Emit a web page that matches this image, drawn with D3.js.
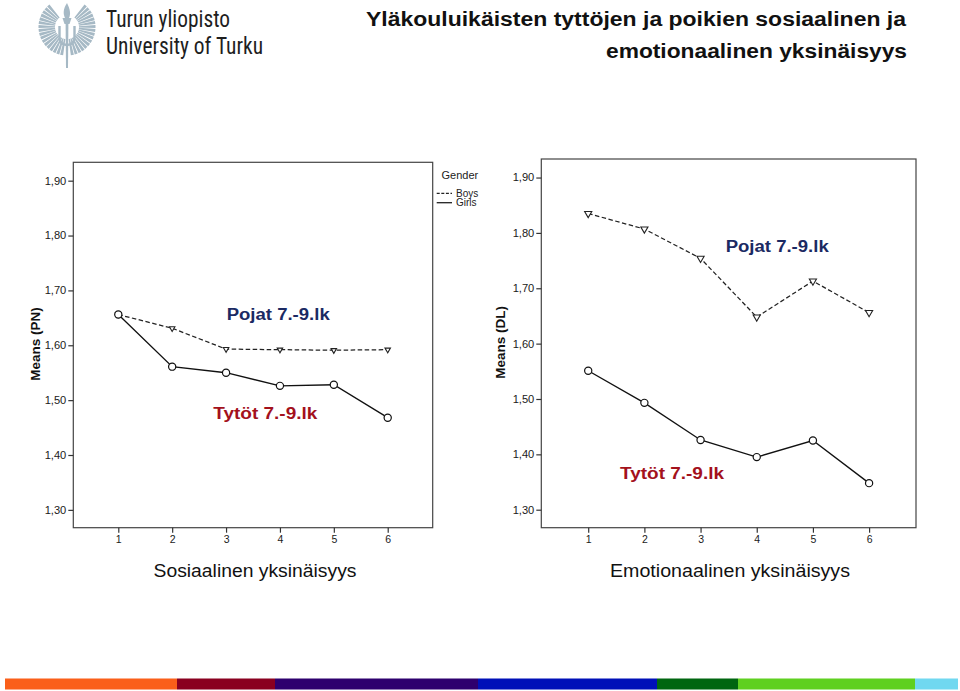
<!DOCTYPE html>
<html><head><meta charset="utf-8">
<script src="https://cdn.jsdelivr.net/npm/d3@7"></script>
<style>body{margin:0;background:#fff}svg{display:block;font-family:"Liberation Sans",Arial,Helvetica,sans-serif}</style>
</head><body><svg id="c" width="960" height="691"></svg>
<script>
// ---- data ----
const grades = [1, 2, 3, 4, 5, 6];
const boysPN = [1.656, 1.631, 1.593, 1.592, 1.591, 1.592];
const girlsPN = [1.656, 1.561, 1.550, 1.526, 1.528, 1.468];
const boysDL = [1.835, 1.807, 1.754, 1.648, 1.713, 1.656];
const girlsDL = [1.551, 1.493, 1.426, 1.395, 1.425, 1.348];
const yTicks = [1.30, 1.40, 1.50, 1.60, 1.70, 1.80, 1.90];
const seriesNames = ["Boys", "Girls"];
const legendTitle = "Gender";
const titleLines = ["Yläkouluikäisten tyttöjen ja poikien sosiaalinen ja", "emotionaalinen yksinäisyys"];
const panelTitles = ["Sosiaalinen yksinäisyys", "Emotionaalinen yksinäisyys"];
const yTitles = ["Means (PN)", "Means (DL)"];
const labelBoys = "Pojat 7.-9.lk";
const labelGirls = "Tytöt 7.-9.lk";
const logoLines = ["Turun yliopisto", "University of Turku"];
const brandColors = ["#fa5f1a", "#8a0020", "#2e006e", "#0010b8", "#006610", "#5fd020", "#70d8f0"];

// ---- layout ----
const svg = d3.select("#c");
const locale = d3.formatLocale({decimal: ",", thousands: ".", grouping: [3], currency: ["", "€"]});
const fmt = locale.format(".2f");
const fit = (sel, len) => sel.attr("textLength", len).attr("lengthAdjust", "spacingAndGlyphs");
const stretch = (sel, k) => sel.each(function () {
  const L = this.getComputedTextLength();
  d3.select(this).attr("textLength", L * k).attr("lengthAdjust", "spacingAndGlyphs");
});

const panels = [
  {x0: 73.3, x1: 432.7, y0: 162.3, y1: 527.7, boys: boysPN, girls: girlsPN,
   xt: panelTitles[0], yt: yTitles[0], xtLen: 203, xtX: 255, ytX: 35,
   bl: [226.7, 320], gl: [213.3, 419.3], tri: 13},
  {x0: 541.3, x1: 916, y0: 159, y1: 527.7, boys: boysDL, girls: girlsDL,
   xt: panelTitles[1], yt: yTitles[1], xtLen: 240, xtX: 730, ytX: 500.5,
   bl: [725.7, 251.7], gl: [620, 479.3], tri: 22}
];

panels.forEach(p => {
  const x = d3.scaleLinear().domain([0.165, 6.835]).range([p.x0, p.x1]);
  const y = d3.scaleLinear().domain([1.2675, 1.9335]).range([p.y1, p.y0]);
  const g = svg.append("g");

  g.append("rect").attr("x", p.x0).attr("y", p.y0)
    .attr("width", p.x1 - p.x0).attr("height", p.y1 - p.y0)
    .attr("fill", "none").attr("stroke", "#444").attr("stroke-width", 1.2);

  const ya = g.append("g").attr("transform", `translate(${p.x0},0)`)
    .call(d3.axisLeft(y).tickValues(yTicks).tickFormat(fmt).tickSize(5).tickPadding(2));
  const xa = g.append("g").attr("transform", `translate(0,${p.y1})`)
    .call(d3.axisBottom(x).tickValues(grades).tickFormat(d3.format("d")).tickSize(5).tickPadding(3));
  [ya, xa].forEach(a => {
    a.select(".domain").remove();
    a.selectAll(".tick line").attr("stroke", "#333").attr("stroke-width", 1.2);
    a.selectAll(".tick text").attr("fill", "#1a1a1a").style("font-size", "10.5px");
  });
  stretch(ya.selectAll(".tick text"), 1.06);

  const line = d3.line().x((d, i) => x(grades[i])).y(d => y(d));
  g.append("path").datum(p.boys).attr("d", line).attr("fill", "none")
    .attr("stroke", "#222").attr("stroke-width", 1.25).attr("stroke-dasharray", "4.5,2.5");
  g.append("path").datum(p.girls).attr("d", line).attr("fill", "none")
    .attr("stroke", "#111").attr("stroke-width", 1.35);

  const tri = d3.symbol().type(d3.symbolTriangle).size(p.tri);
  g.selectAll(".tri").data(p.boys).join("path")
    .attr("d", tri)
    .attr("transform", (d, i) => `translate(${x(grades[i])},${y(d)}) rotate(180)`)
    .attr("fill", "#fff").attr("stroke", "#222").attr("stroke-width", 1.1);
  g.selectAll(".circ").data(p.girls).join("circle")
    .attr("cx", (d, i) => x(grades[i])).attr("cy", d => y(d)).attr("r", 3.6)
    .attr("fill", "#fff").attr("stroke", "#111").attr("stroke-width", 1.2);

  // axis titles
  g.append("text").attr("transform", `translate(${p.ytX},${(p.y0 + p.y1) / 2 - 1}) rotate(-90)`)
    .attr("text-anchor", "middle").attr("dominant-baseline", "central")
    .style("font-size", "13.5px").style("font-weight", "bold").attr("fill", "#111").text(p.yt);
  g.append("text").attr("x", p.xtX - p.xtLen / 2).attr("y", 577)
    .style("font-size", "17.5px").attr("fill", "#111").text(p.xt).call(fit, p.xtLen);

  // annotations
  g.append("text").attr("x", p.bl[0]).attr("y", p.bl[1])
    .style("font-size", "16px").style("font-weight", "bold").attr("fill", "#1b2a63")
    .text(labelBoys).call(fit, 103);
  g.append("text").attr("x", p.gl[0]).attr("y", p.gl[1])
    .style("font-size", "16px").style("font-weight", "bold").attr("fill", "#a3111c")
    .text(labelGirls).call(fit, 104);
});

// legend
const lg = svg.append("g");
lg.append("text").attr("x", 441.5).attr("y", 179).style("font-size", "11px").attr("fill", "#222").text(legendTitle);
seriesNames.forEach((s, i) => {
  const yy = 193.3 + i * 9.4;
  lg.append("line").attr("x1", 436.7).attr("x2", 452).attr("y1", yy).attr("y2", yy)
    .attr("stroke", "#222").attr("stroke-width", 1.3)
    .attr("stroke-dasharray", i === 0 ? "3,1.6" : null);
  lg.append("text").attr("x", 456).attr("y", yy + 3.5).style("font-size", "10px")
    .attr("fill", "#222").text(s);
});

// title
titleLines.forEach((t, i) => {
  svg.append("text").attr("x", i === 0 ? 366 : 606).attr("y", i === 0 ? 26 : 58)
    .style("font-size", "20px").style("font-weight", "bold").attr("fill", "#111")
    .text(t).call(fit, i === 0 ? 540 : 301);
});

// logo
const logo = svg.append("g").attr("fill", "#a6b9c5");
const cx = 67, cy = 27;
const arc = d3.arc();
const rays = [];
for (let a = -38; a >= -166; a -= 8) rays.push(a);
rays.forEach(a => {
  [-1, 1].forEach(s => {
    const a0 = s * a * Math.PI / 180, a1 = s * (a - 6.2) * Math.PI / 180;
    logo.append("path").attr("transform", `translate(${cx},${cy})`)
      .attr("d", arc({innerRadius: 12, outerRadius: 28.5, startAngle: Math.min(a0, a1), endAngle: Math.max(a0, a1)}));
  });
});
logo.append("path").attr("d", "M67,3 C63,9 63,14 65,18 L69,18 C71,14 70,9 67,3 Z");
logo.append("path").attr("d", "M62.5,18 L71.5,18 L69.5,24 L64.5,24 Z");
logo.append("path").attr("d", "M65.6,24 L68.4,24 L68,68 L66,68 Z");
logo.append("path").attr("fill", "none").attr("stroke", "#a6b9c5").attr("stroke-width", 2.4)
  .attr("d", "M59.5,26 L59.5,37 Q59.5,45 67,45 Q74.5,45 74.5,37 L74.5,26");
logoLines.forEach((t, i) => {
  svg.append("text").attr("x", 106).attr("y", i === 0 ? 27 : 53.5)
    .style("font-family", "'Liberation Sans Narrow','Roboto Condensed','Arial Narrow',sans-serif")
    .style("font-size", "24px").attr("fill", "#1e1e1e").text(t)
    .call(fit, i === 0 ? 124 : 157);
});

// brand colour bar
const edges = [5, 177, 275, 478, 657, 738, 915, 958];
svg.selectAll(".bar").data(brandColors).join("rect")
  .attr("x", (d, i) => edges[i]).attr("width", (d, i) => edges[i + 1] - edges[i])
  .attr("y", 678.5).attr("height", 11).attr("fill", d => d);
</script></body></html>
